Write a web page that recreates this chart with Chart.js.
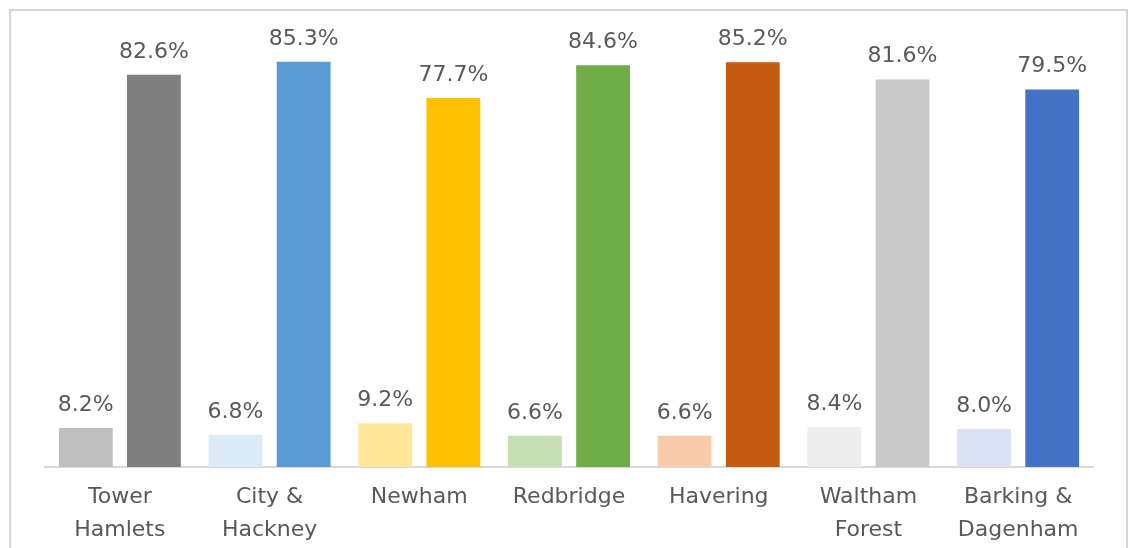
<!DOCTYPE html>
<html>
<head>
<meta charset="utf-8">
<script src="https://cdn.jsdelivr.net/npm/chart.js@4.4.0/dist/chart.umd.min.js"></script>
<style>
  html, body { margin: 0; padding: 0; background: #ffffff; }
  #wrap { width: 1131px; height: 548px; position: relative; }
</style>
</head>
<body>
<div id="wrap"><canvas id="c" width="1131" height="548"></canvas></div>
<script>
const categories = [
  ['Tower', 'Hamlets'],
  ['City &', 'Hackney'],
  ['Newham'],
  ['Redbridge'],
  ['Havering'],
  ['Waltham', 'Forest'],
  ['Barking &', 'Dagenham']
];
const lowValues = [8.2, 6.8, 9.2, 6.6, 6.6, 8.4, 8.0];
const highValues = [82.6, 85.3, 77.7, 84.6, 85.2, 81.6, 79.5];
const lowColors = ['#BFBFBF', '#DDEBF7', '#FFE699', '#C6E0B4', '#F8CBAD', '#EDEDED', '#D9E1F2'];
const highColors = ['#7F7F7F', '#5B9BD5', '#FFC000', '#70AD47', '#C55A11', '#C9C9C9', '#4472C4'];

const TEXT = '#595959';
const FONT = 'DejaVu Sans';

const framePlugin = {
  id: 'frame',
  beforeDraw(chart) {
    const ctx = chart.ctx;
    ctx.save();
    ctx.fillStyle = '#ffffff';
    ctx.fillRect(0, 0, chart.width, chart.height);
    ctx.strokeStyle = '#D4D4D4';
    ctx.lineWidth = 2;
    ctx.strokeRect(10, 10, 1117, 700);
    ctx.restore();
  }
};

const labelPlugin = {
  id: 'valueLabels',
  afterDatasetsDraw(chart) {
    const ctx = chart.ctx;
    ctx.save();
    ctx.font = '22px "' + FONT + '"';
    ctx.fillStyle = TEXT;
    ctx.textAlign = 'center';
    ctx.textBaseline = 'alphabetic';
    chart.data.datasets.forEach((ds, di) => {
      const meta = chart.getDatasetMeta(di);
      meta.data.forEach((bar, i) => {
        ctx.fillText(ds.data[i].toFixed(1) + '%', bar.x, bar.y - 17);
      });
    });
    ctx.restore();
  }
};

new Chart(document.getElementById('c'), {
  type: 'bar',
  data: {
    labels: categories,
    datasets: [
      { data: lowValues, backgroundColor: lowColors, borderWidth: 0 },
      { data: highValues, backgroundColor: highColors, borderWidth: 0 }
    ]
  },
  options: {
    responsive: false,
    animation: false,
    devicePixelRatio: 1,
    layout: { padding: { left: 45, right: 38, top: 39.5, bottom: 0 } },
    datasets: { bar: { categoryPercentage: 0.91, barPercentage: 0.79 } },
    plugins: { legend: { display: false }, tooltip: { enabled: false } },
    scales: {
      y: { display: false, min: 0, max: 90 },
      x: {
        grid: { display: false, drawTicks: false },
        border: { display: true, color: '#D9D9D9', width: 2 },
        ticks: {
          color: TEXT,
          font: { family: FONT, size: 22, lineHeight: 1.5 },
          padding: 14,
          maxRotation: 0,
          autoSkip: false
        },
        afterFit(scale) { scale.height = 81; }
      }
    }
  },
  plugins: [framePlugin, labelPlugin]
});
</script>
</body>
</html>
